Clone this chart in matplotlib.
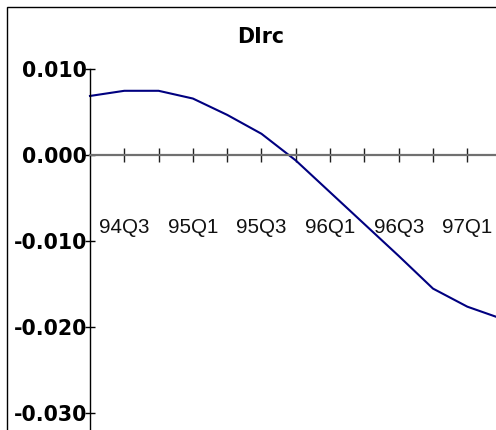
import matplotlib
matplotlib.use("Agg")
import matplotlib.pyplot as plt
from matplotlib.patches import Rectangle

# quarterly series, first observation 94Q2
quarter_idx = list(range(13))
dlrc = [0.0069, 0.0075, 0.0075, 0.0066, 0.0047, 0.0025, -0.0006,
        -0.0043, -0.0080, -0.0117, -0.0155, -0.0176, -0.0190]
label_idx = [1, 3, 5, 7, 9, 11]
labels = ["94Q3", "95Q1", "95Q3", "96Q1", "96Q3", "97Q1"]
minor_idx = [2, 4, 6, 8, 10, 12]
yticks = [0.010, 0.000, -0.010, -0.020, -0.030]

W, H = 496, 430
fig = plt.figure(figsize=(W / 100, H / 100), dpi=100)

# plot area: y axis at x=90px, 0.010 at y=69px, 34.3px per quarter, 8600px per unit
px_q = 34.3
px_u = 8600
xmax, ymin, ymax = 12.5, -0.034, 0.010
left, top = 90, 69.3
width = xmax * px_q
height = (ymax - ymin) * px_u
ax = fig.add_axes([left / W, 1 - (top + height) / H, width / W, height / H])

ax.plot(quarter_idx, dlrc, color="#000080", lw=1.5, clip_on=False)
ax.set_xlim(0, xmax)
ax.set_ylim(ymin, ymax)

for s in ["top", "right"]:
    ax.spines[s].set_visible(False)
ax.spines["left"].set_color("black")
ax.spines["left"].set_linewidth(1.0)
ax.spines["bottom"].set_position(("data", 0))
ax.spines["bottom"].set_color("#707070")
ax.spines["bottom"].set_linewidth(1.6)

ax.set_xticks(label_idx)
ax.set_xticklabels(labels, family="Liberation Sans", fontsize=14.8)
ax.set_xticks(minor_idx, minor=True)
ax.tick_params(axis="x", which="both", direction="inout", length=10,
               width=1.0, color="#202020", pad=40)
ax.tick_params(axis="x", which="major", labelcolor="#111111")

ax.set_yticks(yticks)
ax.set_yticklabels(["%.3f" % v for v in yticks], family="DejaVu Sans",
                   fontweight="bold", fontsize=14.8)
ax.tick_params(axis="y", direction="inout", length=7.2, width=1.0, pad=-1.4)
ax.patch.set_visible(False)

fig.text(261 / W, 1 - 37 / H, "DIrc", ha="center", va="center",
         family="DejaVu Sans", fontweight="bold", fontsize=14.8)

# outer frame, open to the right and bottom
fig.patches.append(Rectangle((7 / W, -0.1), 1.2, 1.1 - 7 / H,
                             transform=fig.transFigure, fill=False,
                             edgecolor="black", lw=1.0, clip_on=False))

fig.savefig("out.png", dpi=100)
